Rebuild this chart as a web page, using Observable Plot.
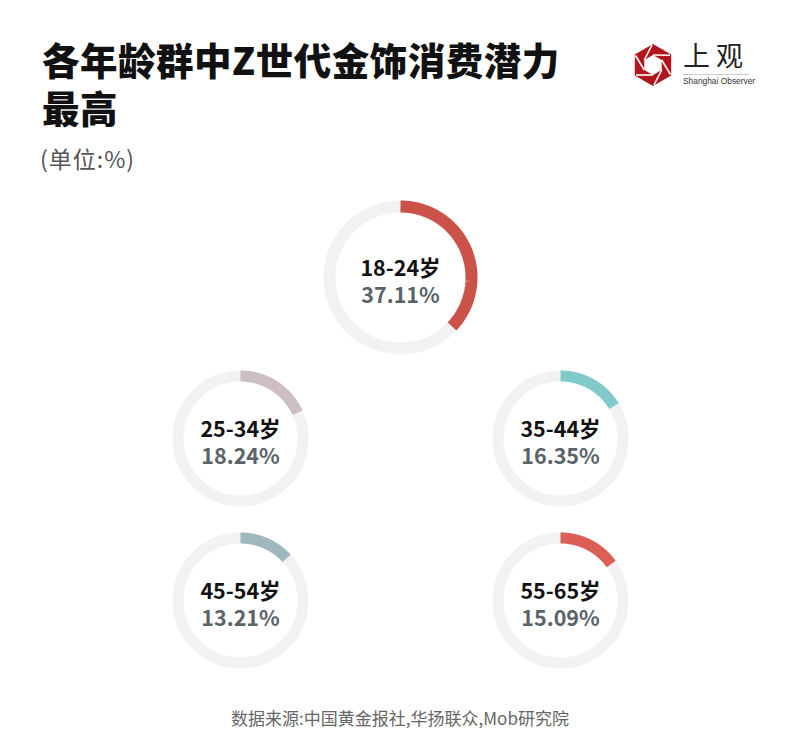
<!DOCTYPE html>
<html><head><meta charset="utf-8">
<script src="https://cdn.jsdelivr.net/npm/d3@7"></script>
<script src="https://cdn.jsdelivr.net/npm/@observablehq/plot@0.6"></script>
<style>
body{margin:0;background:#fff;font-family:"Noto Sans CJK SC","Noto Sans",sans-serif;}
#page{position:relative;width:800px;height:741px;overflow:hidden;background:#fff}
#title{position:absolute;left:42px;top:35px;font-size:37.5px;font-weight:900;line-height:48px;color:#111;margin:0;letter-spacing:0.5px}
#sub{position:absolute;left:40px;top:141px;font-size:23px;color:#555;letter-spacing:1px}
#logo{position:absolute;left:630px;top:40px}
#logoText{position:absolute;left:683px;top:38px;font-size:27px;line-height:34px;color:#222;letter-spacing:6px;white-space:nowrap}
#logoSub{position:absolute;left:683px;top:76px;font-size:8.4px;line-height:11px;color:#333;font-family:"Liberation Sans",Arial,sans-serif;white-space:nowrap}
#chart{position:absolute;left:0;top:185px}
#cap{position:absolute;left:0;width:800px;top:705px;text-align:center;font-size:17px;color:#666}
</style>
</head>
<body>
<div id="page">
  <h1 id="title">各年龄群中Z世代金饰消费潜力<br>最高</h1>
  <div id="sub">(单位:%)</div>
  <svg id="logo" width="125" height="50" viewBox="0 0 125 50">
    <polygon points="23,4 41.2,14.5 41.2,35.5 23,46 4.8,35.5 4.8,14.5" fill="#b3151c"/>
    <polygon points="23,15 31.7,20 31.7,30 23,35 14.3,30 14.3,20" fill="#fff"/>
    <g stroke="#fff" stroke-width="1.6">
      <line x1="23" y1="15" x2="40" y2="15.2"/>
      <line x1="31.7" y1="20" x2="40.5" y2="34.5"/>
      <line x1="31.7" y1="30" x2="24" y2="45"/>
      <line x1="23" y1="35" x2="6" y2="35"/>
      <line x1="14.3" y1="30" x2="5.5" y2="15.5"/>
      <line x1="14.3" y1="20" x2="22" y2="5"/>
    </g>
    <line x1="53" y1="34.5" x2="119" y2="34.5" stroke="#bbb" stroke-width="0.8"/>
  </svg>
  <div id="logoText">上观</div>
  <div id="logoSub">Shanghai Observer</div>
  <div id="chart"></div>
  <div id="cap">数据来源:中国黄金报社,华扬联众,Mob研究院</div>
</div>
<script>
const categories = ["18-24岁", "25-34岁", "35-44岁", "45-54岁", "55-65岁"];
const values = [37.11, 18.24, 16.35, 13.21, 15.09];
const colors = ["#cb5249", "#cdbfc1", "#82c9ca", "#a1b7be", "#dc5f56"];

// layout of the donuts (pixel space of the SVG)
const W = 800, H = 505;
const layout = [
  {cx: 400, cy: 92,  r: 71, w: 12},
  {cx: 240, cy: 253, r: 62.5, w: 11},
  {cx: 560, cy: 253, r: 62.5, w: 11},
  {cx: 240, cy: 415, r: 62.5, w: 11},
  {cx: 560, cy: 415, r: 62.5, w: 11}
];

const rows = categories.map((c, i) => ({cat: c, value: values[i], color: colors[i], ...layout[i]}));

function arcPoints(d) {
  const n = 160, pts = [];
  const end = d.value / 100 * 2 * Math.PI;
  for (let k = 0; k <= n; k++) {
    const a = end * k / n;
    pts.push({x: d.cx + d.r * Math.sin(a), y: d.cy - d.r * Math.cos(a)});
  }
  return pts;
}

const marks = [];
rows.forEach(d => {
  marks.push(Plot.dot([d], {x: "cx", y: "cy", r: "r", stroke: "#f0f2f3", strokeWidth: d.w, fill: "none"}));
  marks.push(Plot.line(arcPoints(d), {x: "x", y: "y", stroke: d.color, strokeWidth: d.w, strokeLinecap: "butt", strokeLinejoin: "miter"}));
});
marks.push(Plot.text(rows, {x: "cx", y: "cy", text: "cat", dy: -8, fontSize: 21.5, fontWeight: "bold", fill: "#111"}));
marks.push(Plot.text(rows, {x: "cx", y: "cy", text: d => d.value.toFixed(2) + "%", dy: 19, fontSize: 21.5, fontWeight: "bold", fill: "#5a6367"}));

const chart = Plot.plot({
  width: W,
  height: H,
  margin: 0,
  x: {domain: [0, W], range: [0, W], axis: null},
  y: {domain: [0, H], range: [0, H], axis: null},
  r: {type: "identity"},
  style: {fontFamily: '"Noto Sans CJK SC", "Noto Sans", sans-serif', background: "transparent"},
  marks
});
document.getElementById("chart").appendChild(chart);
</script>
</body></html>
